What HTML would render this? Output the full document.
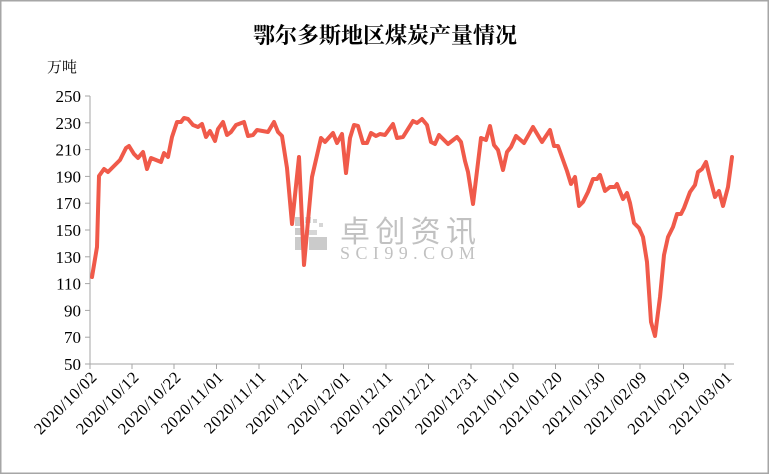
<!DOCTYPE html>
<html><head><meta charset="utf-8"><style>
html,body{margin:0;padding:0;background:#fff;}
svg{display:block;}
</style></head><body>
<svg width="769" height="474" viewBox="0 0 769 474" xmlns="http://www.w3.org/2000/svg">
<rect x="0.5" y="0.5" width="768" height="473" fill="#fff" stroke="#a6a6a6" stroke-width="2"/>
<text x="385" y="43" text-anchor="middle" font-family="'Noto Serif CJK SC',serif" font-weight="bold" font-size="22" fill="#000">鄂尔多斯地区煤炭产量情况</text>
<text x="47" y="72" font-family="'Noto Serif CJK SC',serif" font-size="15" fill="#000">万吨</text>
<g stroke="#a6a6a6" stroke-width="1">
<line x1="90" y1="96" x2="90" y2="364"/>
<line x1="90" y1="364" x2="734" y2="364"/>
<line x1="85" y1="96" x2="90" y2="96"/><line x1="85" y1="122.8" x2="90" y2="122.8"/><line x1="85" y1="149.6" x2="90" y2="149.6"/><line x1="85" y1="176.4" x2="90" y2="176.4"/><line x1="85" y1="203.2" x2="90" y2="203.2"/><line x1="85" y1="230" x2="90" y2="230"/><line x1="85" y1="256.8" x2="90" y2="256.8"/><line x1="85" y1="283.6" x2="90" y2="283.6"/><line x1="85" y1="310.4" x2="90" y2="310.4"/><line x1="85" y1="337.2" x2="90" y2="337.2"/><line x1="85" y1="364" x2="90" y2="364"/>
<line x1="90" y1="364" x2="90" y2="369"/><line x1="132" y1="364" x2="132" y2="369"/><line x1="174" y1="364" x2="174" y2="369"/><line x1="216.5" y1="364" x2="216.5" y2="369"/><line x1="259" y1="364" x2="259" y2="369"/><line x1="301.5" y1="364" x2="301.5" y2="369"/><line x1="343.5" y1="364" x2="343.5" y2="369"/><line x1="386" y1="364" x2="386" y2="369"/><line x1="428.5" y1="364" x2="428.5" y2="369"/><line x1="471" y1="364" x2="471" y2="369"/><line x1="513" y1="364" x2="513" y2="369"/><line x1="555.5" y1="364" x2="555.5" y2="369"/><line x1="598.5" y1="364" x2="598.5" y2="369"/><line x1="640" y1="364" x2="640" y2="369"/><line x1="683.5" y1="364" x2="683.5" y2="369"/><line x1="725" y1="364" x2="725" y2="369"/>
</g>
<g font-family="'Liberation Serif',serif" font-size="17" fill="#000" text-anchor="end">
<text x="81" y="102">250</text><text x="81" y="128.8">230</text><text x="81" y="155.6">210</text><text x="81" y="182.4">190</text><text x="81" y="209.2">170</text><text x="81" y="236">150</text><text x="81" y="262.8">130</text><text x="81" y="289.6">110</text><text x="81" y="316.4">90</text><text x="81" y="343.2">70</text><text x="81" y="370">50</text>
</g>
<g font-family="'Liberation Serif',serif" font-size="16.5" fill="#000" text-anchor="end" letter-spacing="0.6">
<text transform="translate(98,378) rotate(-45)">2020/10/02</text>
<text transform="translate(140,378) rotate(-45)">2020/10/12</text>
<text transform="translate(182,378) rotate(-45)">2020/10/22</text>
<text transform="translate(224.5,378) rotate(-45)">2020/11/01</text>
<text transform="translate(267,378) rotate(-45)">2020/11/11</text>
<text transform="translate(309.5,378) rotate(-45)">2020/11/21</text>
<text transform="translate(351.5,378) rotate(-45)">2020/12/01</text>
<text transform="translate(394,378) rotate(-45)">2020/12/11</text>
<text transform="translate(436.5,378) rotate(-45)">2020/12/21</text>
<text transform="translate(479,378) rotate(-45)">2020/12/31</text>
<text transform="translate(521,378) rotate(-45)">2021/01/10</text>
<text transform="translate(563.5,378) rotate(-45)">2021/01/20</text>
<text transform="translate(606.5,378) rotate(-45)">2021/01/30</text>
<text transform="translate(648,378) rotate(-45)">2021/02/09</text>
<text transform="translate(691.5,378) rotate(-45)">2021/02/19</text>
<text transform="translate(733,378) rotate(-45)">2021/03/01</text>
</g>
<g opacity="0.6">
<rect x="295" y="217" width="8" height="9" fill="#aaa"/><rect x="305" y="217" width="6" height="6" fill="#bbb"/><rect x="313" y="219" width="4" height="4" fill="#bbb"/><rect x="319" y="223" width="4" height="4" fill="#bbb"/>
<rect x="295" y="228" width="8" height="7" fill="#aaa"/><rect x="305" y="230" width="12" height="5" fill="#bbb"/>
<rect x="295" y="237" width="12" height="13" fill="#aaa"/><rect x="309" y="237" width="18" height="13" fill="#aaa"/>
<text x="340" y="242" font-family="'Noto Sans CJK SC',sans-serif" font-size="30" fill="#999" textLength="136">卓创资讯</text>
<text x="340" y="259" font-family="'Liberation Serif',serif" font-size="18" fill="#999" textLength="135">SCI99.COM</text>
</g>
<polyline fill="none" stroke="#f05a4a" stroke-width="4" stroke-linejoin="round" stroke-linecap="round" points="92,277 97,247 99,176 104,169 108,172 120,160 126,148 129,146 134,154 138,158 143,152 147,169 151,158 161,162 164,153 168,157 172,137 177,122 181,122 184,118 188,119 193,125 198,127 202,124 206,137 210,131 215,141 218,129 223,122 227,135 231,132 236,125 244,122 248,136 253,135 257,130 268,132 274,122 278,132 282,136 287,168 292,224 299,157 304,265 312,177 321,138 325,142 333,133 337,143 342,134 346,173 350,138 354,125 358,126 363,143 367,143 371,133 376,136 380,134 385,135 393,124 397,138 403,137 413,121 417,123 422,119 427,125 431,142 435,144 439,135 448,144 457,137 461,142 465,161 468,172 473,204 481,138 486,140 490,126 494,145 498,150 503,170 507,152 511,147 516,136 524,143 533,127 542,142 550,130 554,146 558,146 567,171 571,184 575,177 579,206 583,202 588,192 593,179 597,179 600,175 605,191 610,187 615,187 617,184 623,199 627,193 630,203 634,223 639,228 643,237 647,262 651,322 655,336 660,297 664,255 668,237 673,227 677,214 681,214 684,208 690,192 695,185 698,172 702,169 706,162 710,178 715,197 719,191 723,206 728,187 732,157"/>
</svg>
</body></html>
